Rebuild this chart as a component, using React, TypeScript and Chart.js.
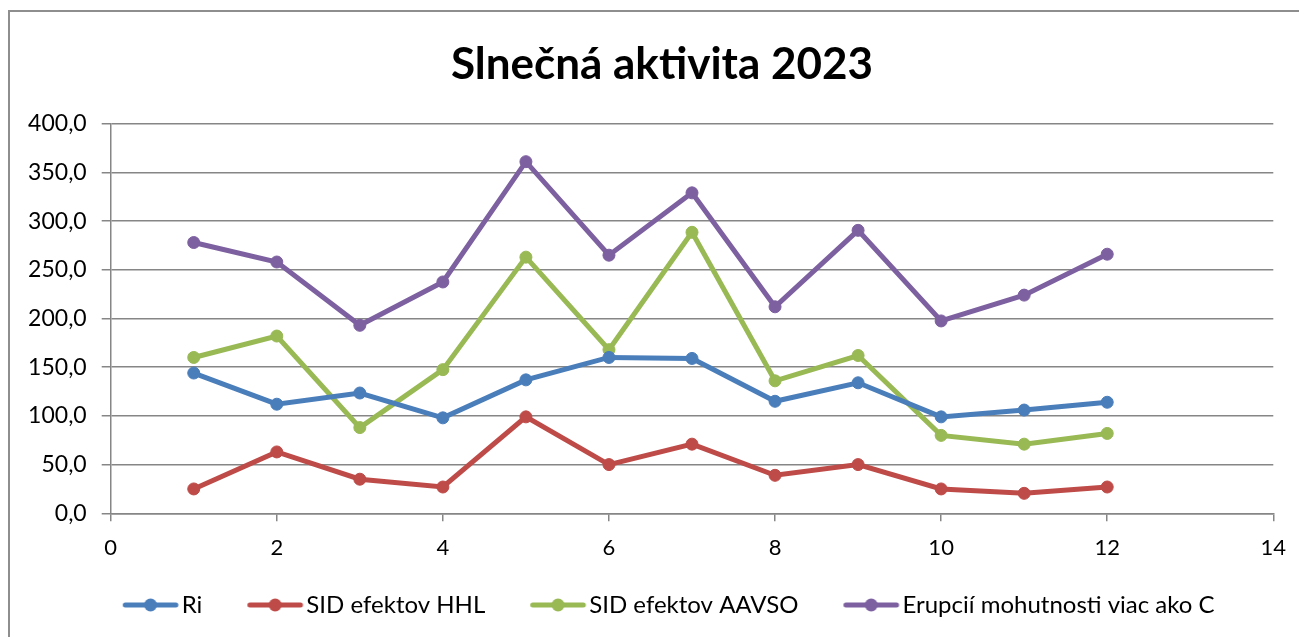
import React, { useEffect, useRef } from "react";
import { Chart, registerables } from "chart.js";
Chart.register(...registerables);

const months = [1, 2, 3, 4, 5, 6, 7, 8, 9, 10, 11, 12];
const ri = [144, 112, 123.5, 98, 137, 160, 159, 115, 134, 99, 106, 114];
const sidHHL = [25, 63, 35, 27, 99, 50, 71, 39, 50, 25, 20.5, 27];
const sidAAVSO = [160, 182, 88, 147.5, 263, 168, 288.5, 136, 162, 80, 71, 82];
const erupcie = [278, 258, 193, 237.5, 361, 265, 329, 212, 290.5, 197.5, 224, 266];
const seriesNames = ["Ri", "SID efektov HHL", "SID efektov AAVSO", "Erupcií mohutnosti viac ako C"];
const seriesColors = ["#4A7EBB", "#BE4B48", "#98B954", "#7D60A0"];
const titleText = "Slnečná aktivita 2023";
const yMin = 0;
const yMax = 400;
const yStep = 50;
const xMin = 0;
const xMax = 14;
const xStep = 2;

const FONT = "Lato, 'Open Sans', sans-serif";

function makeLegendIcon(color: string): HTMLCanvasElement {
  const c = document.createElement("canvas");
  c.width = 102;
  c.height = 16;
  const ctx = c.getContext("2d")!;
  ctx.strokeStyle = color;
  ctx.lineWidth = 5;
  ctx.lineCap = "round";
  ctx.beginPath();
  ctx.moveTo(47.5, 8);
  ctx.lineTo(98.1, 8);
  ctx.stroke();
  ctx.fillStyle = color;
  ctx.beginPath();
  ctx.arc(72.8, 8, 6.5, 0, Math.PI * 2);
  ctx.fill();
  return c;
}

export default function App() {
  const ref = useRef<HTMLCanvasElement | null>(null);
  useEffect(() => {
    if (!ref.current) return;
    const allSeries = [ri, sidHHL, sidAAVSO, erupcie];
    const icons = seriesColors.map(makeLegendIcon);
    const shiftBlocks = {
      id: "shiftBlocks",
      afterLayout(chart: any) {
        if (chart.legend) {
          chart.legend.left = 67.7;
        }
        if (chart.titleBlock) {
          chart.titleBlock.left += 20.35;
          chart.titleBlock.right += 20.35;
        }
      },
    };
    const chart = new Chart(ref.current, {
      type: "line",
      data: {
        datasets: allSeries.map((s, i) => ({
          label: seriesNames[i],
          data: s.map((v, j) => ({ x: months[j], y: v })),
          borderColor: seriesColors[i],
          backgroundColor: seriesColors[i],
          borderWidth: 5,
          pointRadius: 6,
          pointBorderWidth: 1,
          pointHoverRadius: 6,
          tension: 0,
          fill: false,
        })),
      },
      options: {
        responsive: false,
        animation: false,
        layout: { padding: { left: 0, right: 34.7, top: 0, bottom: 41 } },
        plugins: {
          tooltip: { enabled: false },
          title: {
            display: true,
            text: titleText,
            color: "#000",
            font: { family: FONT, size: 44, weight: "bold", lineHeight: 1.2 },
            padding: { top: 26.1, bottom: 32.8 },
          },
          legend: {
            display: true,
            position: "bottom",
            align: "start",
            labels: {
              color: "#000",
              font: { family: FONT, size: 24 },
              usePointStyle: true,
              pointStyleWidth: 82,
              padding: 10,
              generateLabels: (ch: any) => {
                const items = Chart.defaults.plugins.legend.labels.generateLabels(ch);
                items.forEach((it: any, i: number) => {
                  it.pointStyle = icons[i];
                });
                return items;
              },
            },
          },
        },
        scales: {
          x: {
            type: "linear",
            min: xMin,
            max: xMax,
            afterFit: (s: any) => {
              s.height = 69.7;
            },
            ticks: {
              stepSize: xStep,
              color: "#000",
              font: { family: FONT, size: 22 },
              padding: 13,
              maxRotation: 0,
            },
            grid: {
              drawOnChartArea: false,
              drawTicks: true,
              tickLength: 8,
              color: "#868686",
              lineWidth: 1.5,
            },
            border: { display: true, color: "#868686", width: 1.5 },
          },
          y: {
            min: yMin,
            max: yMax,
            afterFit: (s: any) => {
              s.width = 100.7;
            },
            ticks: {
              stepSize: yStep,
              color: "#000",
              font: { family: FONT, size: 23 },
              padding: 15,
              callback: (v: any) => Number(v).toFixed(1).replace(".", ","),
            },
            grid: {
              drawTicks: true,
              tickLength: 9,
              color: "#868686",
              lineWidth: 1.5,
            },
            border: { display: true, color: "#868686", width: 1.5 },
          },
        },
      },
      plugins: [shiftBlocks],
    } as any);
    return () => chart.destroy();
  }, []);
  return (
    <div style={{ paddingTop: 2 }}>
      <div
        style={{
          width: 1302,
          height: 660,
          border: "2px solid #8e8e8e",
          boxSizing: "border-box",
          background: "#fff",
        }}
      >
        <canvas ref={ref} width={1298} height={656} style={{ display: "block" }} />
      </div>
    </div>
  );
}
